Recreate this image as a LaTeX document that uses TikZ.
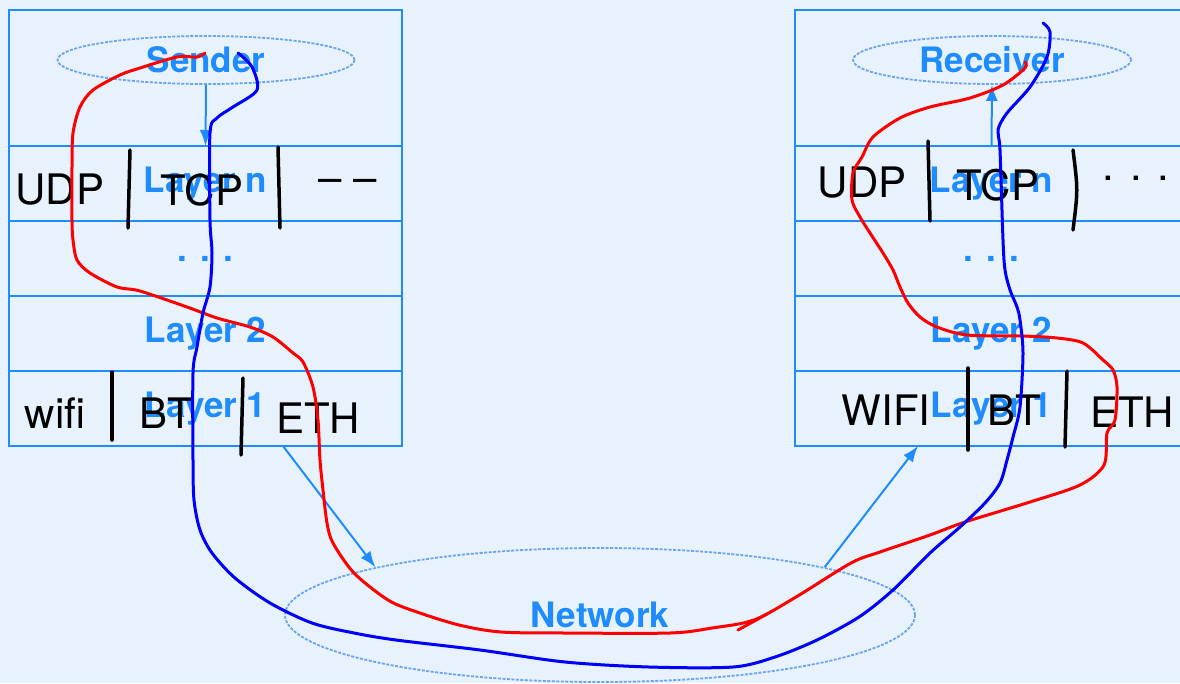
\documentclass[tikz,border=0pt]{standalone}
\usepackage{fontspec}
\setmainfont{TeX Gyre Heros}
\definecolor{netbg}{RGB}{232,242,253}
\definecolor{netblue}{RGB}{30,140,255}
\definecolor{netpale}{RGB}{105,165,240}
\definecolor{penred}{RGB}{255,0,0}
\definecolor{penblue}{RGB}{0,0,255}
\usetikzlibrary{arrows.meta,positioning,shapes.geometric,calc}
\tikzset{
  layerrow/.style={draw=netblue, line width=2pt, minimum width=393pt, minimum height=75pt, inner sep=0pt, outer sep=0pt, font=\fontsize{35}{40}\selectfont\bfseries, text=netblue},
  toprow/.style={layerrow, minimum height=136pt, anchor=north west},
  hostoval/.style={ellipse, draw=netpale, line width=1.8pt, dash pattern=on 3pt off 1.5pt, inner sep=0pt, minimum height=48pt, font=\fontsize{35}{40}\selectfont\bfseries, text=netblue},
  flowarrow/.style={draw=netblue, line width=2pt, -{Latex[length=16pt,width=12pt]}},
  scribble/.style={font=\fontsize{42}{48}\selectfont, text=black, inner sep=0pt},
  bar/.style={black, line width=3.5pt, line cap=round},
  redpen/.style={penred, line width=3pt, line cap=round, line join=round},
  bluepen/.style={penblue, line width=3pt, line cap=round, line join=round}
}
\begin{document}
\begin{tikzpicture}[x=1pt, y=-1pt]
  \fill[netbg] (0,0) rectangle (1180,683);
  \useasboundingbox (0,0) rectangle (1180,683);

  %% Sender stack
  \node[toprow] (sndTop) at (9,10) {};
  \node[layerrow, below=0pt of sndTop] (sndN) {Layer n};
  \node[layerrow, below=0pt of sndN] (sndDots) {. . .};
  \node[layerrow, below=0pt of sndDots] (snd2) {Layer 2};
  \node[layerrow, below=0pt of snd2] (snd1) {Layer 1};
  \node[hostoval, minimum width=297pt] (sender) at (206,60) {Sender};
  \draw[flowarrow] (sender.south) -- (sndN.north);

  %% Receiver stack
  \node[toprow] (rcvTop) at (795,10) {};
  \node[layerrow, below=0pt of rcvTop] (rcvN) {Layer n};
  \node[layerrow, below=0pt of rcvN] (rcvDots) {. . .};
  \node[layerrow, below=0pt of rcvDots] (rcv2) {Layer 2};
  \node[layerrow, below=0pt of rcv2] (rcv1) {Layer 1};
  \node[hostoval, minimum width=278pt] (receiver) at (992,60) {Receiver};
  \draw[flowarrow] (rcvN.north) -- (receiver.south);

  %% Network
  \node[hostoval, minimum width=630pt, minimum height=134pt] (net) at (600,615) {Network};
  \coordinate (sndOut) at ($(snd1.south west)+(274,0)$);
  \coordinate (rcvIn) at ($(rcv1.south west)+(123,0)$);
  \draw[flowarrow] (sndOut) -- (net.168);
  \draw[flowarrow] (net.12) -- (rcvIn);

  %% Handwritten protocol notes
  \node[scribble] (sndUdp) at (60,190) {UDP};
  \node[scribble] (sndTcp) at (202,190) {TCP};
  \node[scribble] (sndMore) at (348,186) {– –};
  \draw[bar] (130,150) -- (128,228);
  \draw[bar] (278,147) -- (280,228);
  \node[scribble] (sndWifi) at (55,413) {wifi};
  \node[scribble] (sndBt) at (166,413) {BT};
  \node[scribble] (sndEth) at (318,418) {ETH};
  \draw[bar] (112,372) -- (112,440);
  \draw[bar] (243,378) -- (241,455);

  \node[scribble] (rcvUdp) at (862,183) {UDP};
  \node[scribble] (rcvTcp) at (998,185) {TCP};
  \node[scribble] (rcvMore) at (1136,178) {. . .};
  \draw[bar] (928,141) -- (930,221);
  \draw[bar] (1073,150) .. controls (1078,190) .. (1073,230);
  \node[scribble] (rcvWifi) at (886,410) {WIFI};
  \node[scribble] (rcvBt) at (1014,410) {BT};
  \node[scribble] (rcvEth) at (1132,412) {ETH};
  \draw[bar] (968,368) -- (968,450);
  \draw[bar] (1067,371) -- (1065,447);

  %% Red path
  \draw[redpen] plot[smooth, tension=0.5] coordinates {
    (205,53) (197,57) (177,57) (140,68) (120,75) (93,90) (80,107) (73,133)
    (72,167) (72,220) (73,240) (77,260) (90,273) (117,287) (140,291) (187,307)
    (217,318) (250,327) (273,337) (293,353) (303,362) (313,387) (318,420) (320,460)
    (323,490) (327,523) (333,543) (354,573) (388,600) (417,612) (459,625) (501,632)
    (565,633) (670,633) (712,628) (754,620) (796,597) (851,563) (880,552) (930,535)
    (965,522) (1030,502) (1080,485) (1104,465) (1107,433) (1115,420) (1117,387)
    (1113,370) (1103,360) (1083,343) (1057,338) (1023,336) (967,335) (937,327)
    (920,317) (908,303) (900,287) (893,270) (883,253) (870,233) (860,217) (852,200)
    (853,173) (862,157) (873,137) (900,118) (930,107) (970,98) (1003,85) (1025,68) (1025,62)};
  \draw[redpen] (767,614) -- (738,630);

  %% Blue path
  \draw[bluepen] plot[smooth, tension=0.5] coordinates {
    (238,53) (252,67) (257,90) (233,107) (217,118) (210,133) (210,220) (212,253)
    (210,287) (203,313) (197,347) (193,373) (193,460) (194,500) (200,530) (212,553)
    (235,578) (270,603) (312,623) (354,633) (396,640) (480,650) (565,662) (649,667)
    (733,667) (775,657) (817,640) (859,617) (893,590) (930,553) (960,527) (985,503)
    (1000,483) (1007,460) (1013,437) (1020,407) (1023,353) (1020,320) (1017,307)
    (1010,290) (1005,270) (1003,240) (1000,150) (998,130) (1007,113) (1030,87)
    (1047,57) (1050,32) (1043,23)};
\end{tikzpicture}
\end{document}
